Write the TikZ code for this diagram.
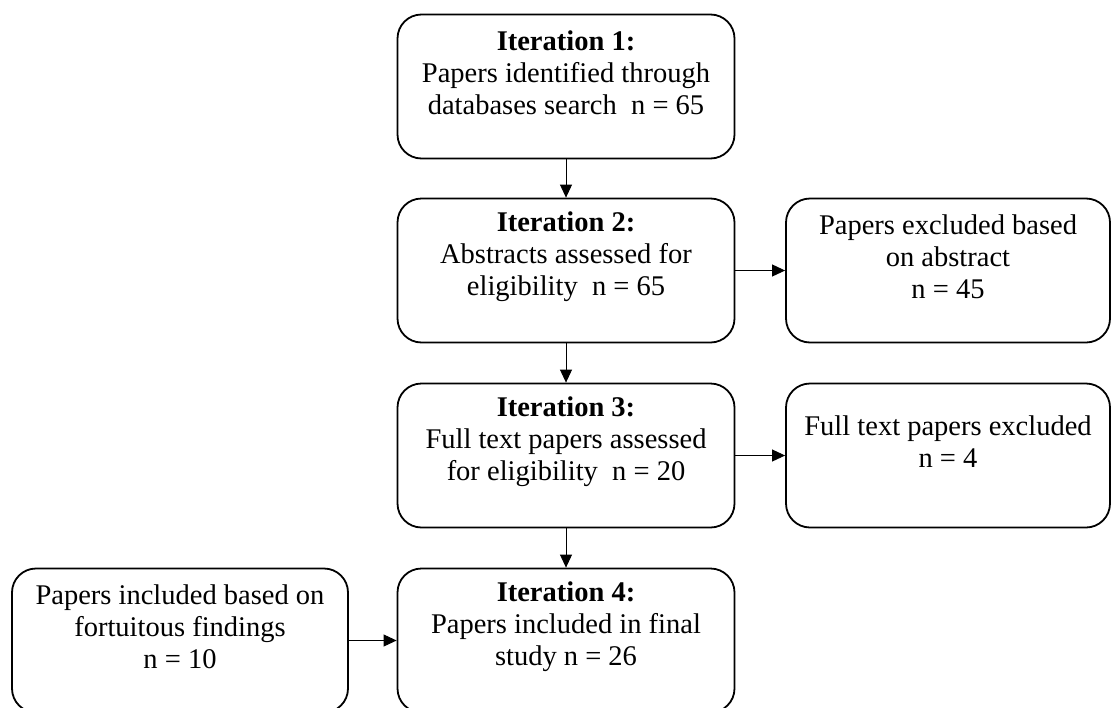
\documentclass[tikz,border=0pt]{standalone}
\usepackage{fontspec}
\setmainfont{Liberation Serif}
\usetikzlibrary{arrows.meta}

\tikzset{
  stage/.style={draw=black, line width=1.8pt, rounded corners=24pt,
    minimum width=337pt, minimum height=144pt, inner sep=0pt},
  side/.style={stage, minimum width=324pt},
  label text/.style={align=center, inner sep=0pt,
    font=\fontsize{28.5}{32}\selectfont},
  flow/.style={line width=0.9pt, -{Triangle[length=13pt,width=12pt]}}
}

\begin{document}
\begin{tikzpicture}[x=1pt, y=-1pt]
  \useasboundingbox (0,0) rectangle (1111,707);

  % main column of iterations
  \node[stage] (b1) at (566,86.5) {};
  \node[stage] (b2) at (566,270.5) {};
  \node[stage] (b3) at (566,455.5) {};
  \node[stage] (b4) at (566,640.5) {};

  % side boxes
  \node[side] (x1) at (948,270.5) {};
  \node[side] (x2) at (948,455.5) {};
  \node[stage, minimum width=336pt] (f1) at (180,640.5) {};

  % texts, set above the centre of each box
  \node[label text] (t1) at ([yshift=14pt]b1.center)
    {\textbf{Iteration 1:}\\Papers identified through\\databases search\ \ n = 65};
  \node[label text] (t2) at ([yshift=14pt]b2.center)
    {\textbf{Iteration 2:}\\Abstracts assessed for\\eligibility\ \ n = 65};
  \node[label text] (t3) at ([yshift=14pt]b3.center)
    {\textbf{Iteration 3:}\\Full text papers assessed\\for eligibility\ \ n = 20};
  \node[label text] (t4) at ([yshift=14pt]b4.center)
    {\textbf{Iteration 4:}\\Papers included in final\\study n = 26};
  \node[label text] (tx1) at ([yshift=14pt]x1.center)
    {Papers excluded based\\on abstract\\n = 45};
  \node[label text] (tx2) at ([yshift=14pt]x2.center)
    {Full text papers excluded\\n = 4};
  \node[label text] (tf1) at ([yshift=14pt]f1.center)
    {Papers included based on\\fortuitous findings\\n = 10};

  % connectors
  \draw[flow] (b1.south) -- (b2.north);
  \draw[flow] (b2.south) -- (b3.north);
  \draw[flow] (b3.south) -- (b4.north);
  \draw[flow] (b2.east) -- (x1.west);
  \draw[flow] (b3.east) -- (x2.west);
  \draw[flow] (f1.east) -- (b4.west);
\end{tikzpicture}
\end{document}
